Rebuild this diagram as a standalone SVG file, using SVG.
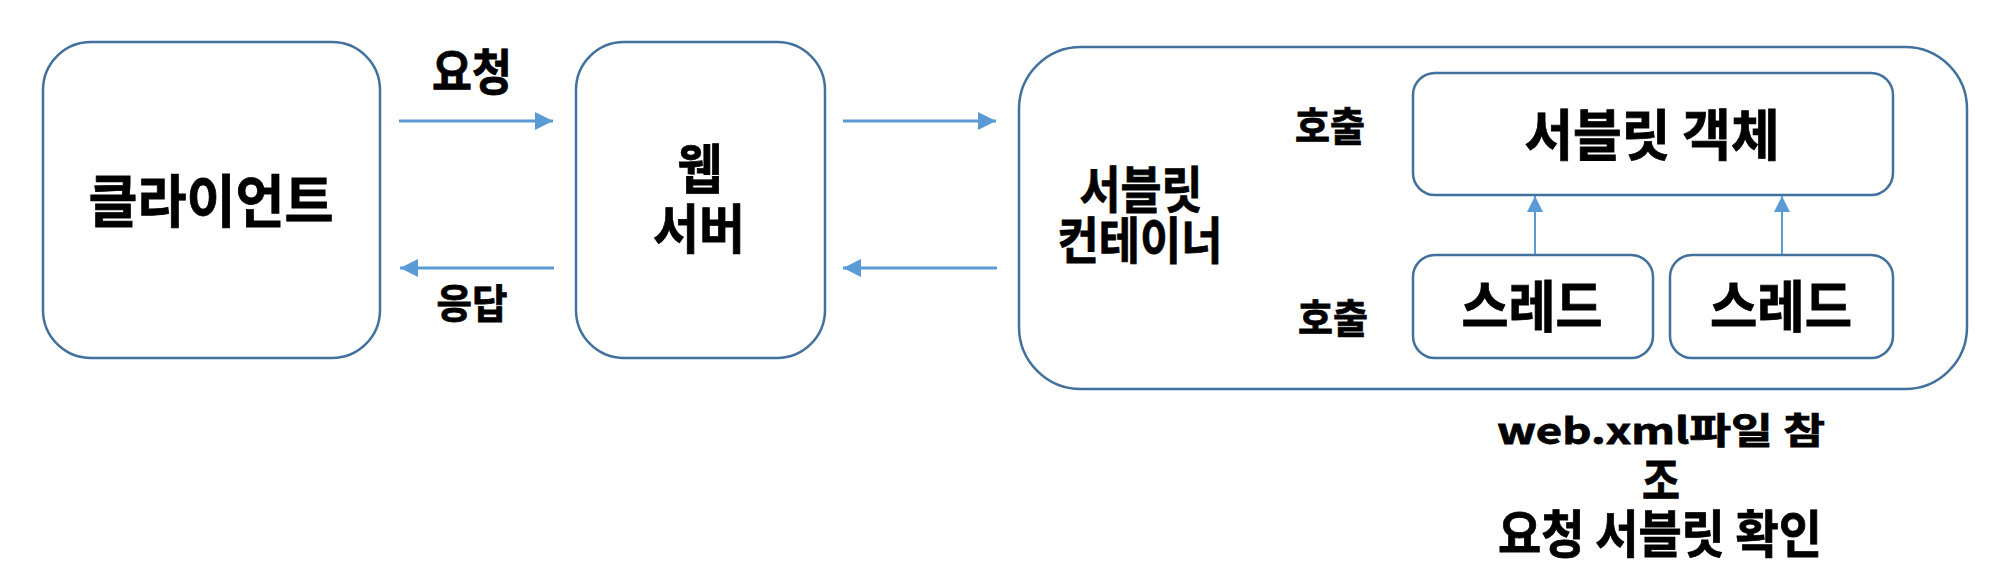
<svg xmlns="http://www.w3.org/2000/svg" width="2000" height="579" viewBox="0 0 2000 579">
<style>
.box{fill:#fff;stroke:#41719C;stroke-width:2.5}
.t{font-family:"Noto Sans CJK KR","Liberation Sans",sans-serif;font-weight:bold;fill:#000;stroke:#000;stroke-width:0.8;text-anchor:middle;dominant-baseline:central}
.arr{stroke:#5B9BD5;stroke-width:3;fill:none}
.arr2{stroke:#5B9BD5;stroke-width:2;fill:none}
</style>
<defs>
<marker id="ah" markerUnits="userSpaceOnUse" markerWidth="20" markerHeight="20" refX="18" refY="9" orient="auto">
<path d="M0,0 L18,9 L0,18 Z" fill="#5B9BD5"/>
</marker>
<marker id="ah2" markerUnits="userSpaceOnUse" markerWidth="18" markerHeight="18" refX="16" refY="8" orient="auto">
<path d="M0,0 L16,8 L0,16 Z" fill="#5B9BD5"/>
</marker>
</defs>
<rect width="2000" height="579" fill="#fff"/>
<g id="client">
<rect class="box" x="43" y="42" width="337" height="316" rx="48"/>
<text class="t" x="211" y="197" font-size="57" textLength="245" lengthAdjust="spacingAndGlyphs">클라이언트</text>
</g>
<g id="webserver">
<rect class="box" x="576" y="42" width="249" height="316" rx="48"/>
<text class="t" font-size="53" lengthAdjust="spacingAndGlyphs"><tspan x="700" y="166" textLength="45" lengthAdjust="spacingAndGlyphs">웹</tspan><tspan x="699" y="226" textLength="92" lengthAdjust="spacingAndGlyphs">서버</tspan></text>
</g>
<g id="container">
<rect class="box" x="1019" y="47" width="948" height="342" rx="62"/>
<text class="t" font-size="50"><tspan x="1141" y="186" textLength="123" lengthAdjust="spacingAndGlyphs">서블릿</tspan><tspan x="1140" y="237" textLength="165" lengthAdjust="spacingAndGlyphs">컨테이너</tspan></text>
<text class="t" x="1330" y="124" font-size="40" textLength="70" lengthAdjust="spacingAndGlyphs">호출</text>
<text class="t" x="1333" y="316" font-size="40" textLength="70" lengthAdjust="spacingAndGlyphs">호출</text>
</g>
<g id="servlet-object">
<rect class="box" x="1413" y="73" width="480" height="122" rx="22"/>
<text class="t" x="1652" y="131" font-size="55" textLength="255" lengthAdjust="spacingAndGlyphs">서블릿 객체</text>
</g>
<g id="thread1">
<rect class="box" x="1413" y="255" width="240" height="103" rx="22"/>
<text class="t" x="1532" y="302" font-size="56" textLength="141" lengthAdjust="spacingAndGlyphs">스레드</text>
</g>
<g id="thread2">
<rect class="box" x="1670" y="255" width="223" height="103" rx="22"/>
<text class="t" x="1781" y="302" font-size="56" textLength="142" lengthAdjust="spacingAndGlyphs">스레드</text>
</g>
<g id="connectors">
<line class="arr" x1="399" y1="121" x2="553" y2="121" marker-end="url(#ah)"/>
<line class="arr" x1="554" y1="268" x2="400" y2="268" marker-end="url(#ah)"/>
<line class="arr" x1="843" y1="121" x2="996" y2="121" marker-end="url(#ah)"/>
<line class="arr" x1="997" y1="268" x2="843" y2="268" marker-end="url(#ah)"/>
<line class="arr2" x1="1535" y1="254" x2="1535" y2="196" marker-end="url(#ah2)"/>
<line class="arr2" x1="1782" y1="254" x2="1782" y2="196" marker-end="url(#ah2)"/>
</g>
<g id="labels">
<text class="t" x="472" y="68" font-size="49" textLength="80" lengthAdjust="spacingAndGlyphs">요청</text>
<text class="t" x="472" y="301" font-size="40" textLength="71" lengthAdjust="spacingAndGlyphs">응답</text>
</g>
<g id="note">
<text class="t" font-size="48"><tspan x="1661" y="428" font-size="36" textLength="328" lengthAdjust="spacingAndGlyphs">web.xml파일 참</tspan><tspan x="1661" y="477" font-size="49" textLength="38" lengthAdjust="spacingAndGlyphs">조</tspan><tspan x="1660" y="531" font-size="51" textLength="324" lengthAdjust="spacingAndGlyphs">요청 서블릿 확인</tspan></text>
</g>
</svg>
